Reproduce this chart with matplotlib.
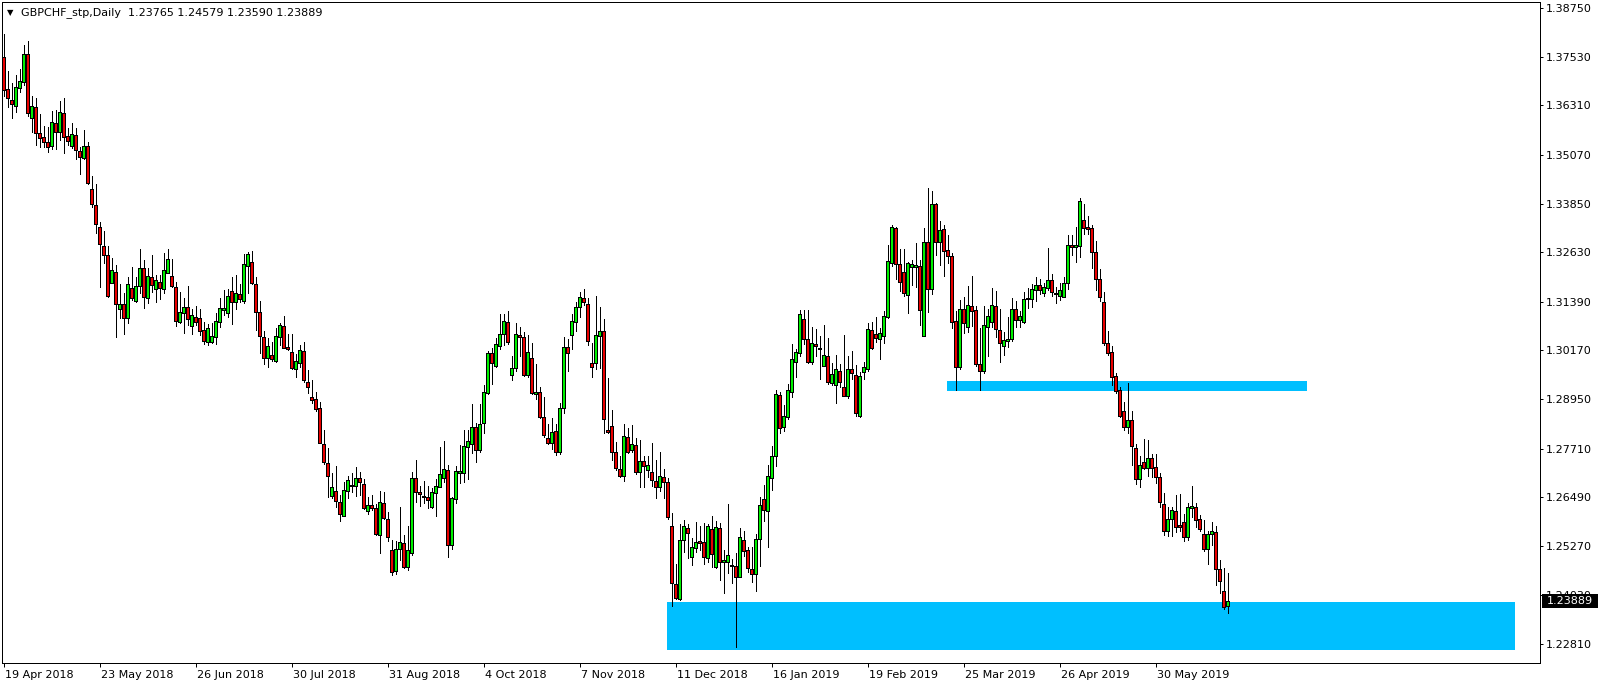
import numpy as np
import matplotlib
matplotlib.use("Agg")
import matplotlib.pyplot as plt
from matplotlib.patches import Rectangle
import matplotlib.transforms as mtransforms

# ---------------- data ----------------
opens = [
1.3751,1.3671,1.3644,1.3630,1.3674,1.3690,1.3760,1.3599,1.3626,1.3561,
1.3551,1.3538,1.3530,1.3586,1.3563,1.3611,1.3554,1.3530,1.3557,1.3517,
1.3498,1.3529,1.3421,1.3381,1.3327,1.3279,1.3256,1.3187,1.3213,1.3120,
1.3132,1.3097,1.3173,1.3141,1.3179,1.3223,1.3148,1.3200,1.3171,1.3188,
1.3171,1.3212,1.3204,1.3175,1.3089,1.3111,1.3125,1.3079,1.3100,1.3097,
1.3068,1.3038,1.3039,1.3051,1.3087,1.3119,1.3111,1.3166,1.3137,1.3158,
1.3141,1.3229,1.3238,1.3183,1.3112,1.3050,1.2997,1.3005,1.2991,1.3050,
1.3078,1.3025,1.3012,1.2970,1.2986,1.3015,1.2937,1.2899,1.2894,1.2872,
1.2782,1.2734,1.2653,1.2665,1.2638,1.2603,1.2665,1.2680,1.2678,1.2696,
1.2681,1.2615,1.2630,1.2621,1.2553,1.2634,1.2594,1.2517,1.2464,1.2518,
1.2534,1.2475,1.2508,1.2696,1.2661,1.2652,1.2649,1.2625,1.2659,1.2675,
1.2696,1.2717,1.2528,1.2644,1.2710,1.2709,1.2774,1.2782,1.2824,1.2766,
1.2836,1.2909,1.3010,1.2979,1.3029,1.3057,1.3089,1.2954,1.2972,1.3055,
1.3050,1.2954,1.2997,1.2907,1.2912,1.2849,1.2797,1.2784,1.2815,1.2761,
1.2872,1.3025,1.3055,1.3089,1.3125,1.3148,1.3132,1.2985,1.2985,1.3054,
1.3066,1.2817,1.2827,1.2762,1.2720,1.2703,1.2799,1.2766,1.2780,1.2713,
1.2740,1.2717,1.2711,1.2690,1.2674,1.2699,1.2686,1.2577,1.2431,1.2393,
1.2542,1.2571,1.2498,1.2521,1.2539,1.2536,1.2496,1.2569,1.2473,1.2571,
1.2486,1.2486,1.2479,1.2477,1.2450,1.2542,1.2517,1.2469,1.2456,1.2544,
1.2644,1.2615,1.2696,1.2752,1.2905,1.2825,1.2849,1.2913,1.2989,1.3010,
1.3095,1.3045,1.2987,1.3033,1.3022,1.2979,1.3003,1.2935,1.2930,1.2965,
1.2924,1.2903,1.2970,1.2955,1.2853,1.2962,1.2970,1.3068,1.3058,1.3045,
1.3053,1.3100,1.3235,1.3323,1.3233,1.3213,1.3156,1.3227,1.3227,1.3228,
1.3054,1.3288,1.3170,1.3384,1.3288,1.3320,1.3269,1.3254,1.3091,1.2976,
1.3120,1.3076,1.3127,1.3118,1.2983,1.2964,1.3075,1.3089,1.3128,1.3068,
1.3028,1.3041,1.3045,1.3120,1.3093,1.3089,1.3145,1.3145,1.3168,1.3180,
1.3160,1.3173,1.3193,1.3160,1.3154,1.3151,1.3185,1.3281,1.3277,1.3279,
1.3344,1.3327,1.3323,1.3264,1.3195,1.3137,1.3035,1.3012,1.2953,1.2918,
1.2865,1.2826,1.2843,1.2772,1.2694,1.2737,1.2723,1.2747,1.2724,1.2699,
1.2631,1.2563,1.2594,1.2614,1.2579,1.2588,1.2548,1.2621,1.2625,1.2594,
1.2557,1.2518,1.2556,1.2561,1.2468,1.2414,1.23765]

highs = [
1.3810,1.3717,1.3686,1.3707,1.3721,1.3782,1.3792,1.3654,1.3649,1.3609,
1.3579,1.3576,1.3617,1.3619,1.3642,1.3649,1.3575,1.3586,1.3574,1.3527,
1.3569,1.3538,1.3454,1.3434,1.3339,1.3316,1.3279,1.3248,1.3231,1.3183,
1.3160,1.3202,1.3225,1.3202,1.3271,1.3243,1.3223,1.3256,1.3206,1.3206,
1.3262,1.3271,1.3245,1.3189,1.3164,1.3148,1.3178,1.3120,1.3128,1.3120,
1.3089,1.3083,1.3085,1.3111,1.3148,1.3168,1.3170,1.3202,1.3206,1.3183,
1.3259,1.3263,1.3266,1.3202,1.3141,1.3066,1.3047,1.3037,1.3072,1.3085,
1.3103,1.3058,1.3058,1.3008,1.3030,1.3037,1.2968,1.2943,1.2912,1.2887,
1.2817,1.2772,1.2709,1.2727,1.2655,1.2688,1.2702,1.2710,1.2724,1.2711,
1.2694,1.2650,1.2655,1.2631,1.2665,1.2661,1.2611,1.2542,1.2539,1.2625,
1.2554,1.2577,1.2711,1.2742,1.2677,1.2690,1.2677,1.2671,1.2695,1.2776,
1.2790,1.2730,1.2650,1.2727,1.2780,1.2817,1.2817,1.2883,1.2836,1.2883,
1.2930,1.3016,1.3022,1.3047,1.3107,1.3107,1.3116,1.3003,1.3085,1.3076,
1.3064,1.3055,1.3035,1.2983,1.2924,1.2899,1.2833,1.2848,1.2833,1.2884,
1.3050,1.3046,1.3107,1.3139,1.3162,1.3170,1.3148,1.3035,1.3153,1.3126,
1.3095,1.2947,1.2868,1.2788,1.2751,1.2833,1.2822,1.2830,1.2797,1.2792,
1.2752,1.2751,1.2784,1.2742,1.2761,1.2719,1.2696,1.2610,1.2482,1.2582,
1.2592,1.2582,1.2546,1.2588,1.2577,1.2585,1.2582,1.2602,1.2590,1.2585,
1.2517,1.2632,1.2493,1.2508,1.2571,1.2564,1.2525,1.2524,1.2557,1.2650,
1.2680,1.2730,1.2777,1.2918,1.2913,1.2880,1.2933,1.3033,1.3020,1.3118,
1.3118,1.3118,1.3075,1.3070,1.3054,1.3080,1.3047,1.2986,1.3005,1.2982,
1.3055,1.3003,1.3015,1.2980,1.2962,1.2989,1.3085,1.3087,1.3100,1.3072,
1.3116,1.3281,1.3331,1.3327,1.3270,1.3270,1.3238,1.3243,1.3285,1.3243,
1.3323,1.3423,1.3416,1.3387,1.3341,1.3331,1.3306,1.3260,1.3116,1.3143,
1.3150,1.3178,1.3203,1.3128,1.3074,1.3128,1.3120,1.3174,1.3166,1.3121,
1.3064,1.3101,1.3149,1.3141,1.3116,1.3164,1.3173,1.3183,1.3202,1.3195,
1.3187,1.3273,1.3208,1.3176,1.3185,1.3202,1.3306,1.3306,1.3327,1.3400,
1.3384,1.3354,1.3331,1.3291,1.3220,1.3164,1.3066,1.3028,1.2960,1.2924,
1.2888,1.2935,1.2865,1.2782,1.2752,1.2794,1.2792,1.2757,1.2757,1.2709,
1.2659,1.2625,1.2625,1.2655,1.2656,1.2606,1.2635,1.2677,1.2635,1.2604,
1.2592,1.2564,1.2586,1.2578,1.2492,1.2471,1.24579]

lows = [
1.3654,1.3628,1.3600,1.3615,1.3665,1.3682,1.3605,1.3565,1.3532,1.3527,
1.3526,1.3513,1.3522,1.3521,1.3544,1.3511,1.3532,1.3525,1.3496,1.3459,
1.3497,1.3434,1.3377,1.3310,1.3176,1.3235,1.3151,1.3185,1.3050,1.3097,
1.3057,1.3085,1.3143,1.3139,1.3160,1.3122,1.3136,1.3164,1.3139,1.3145,
1.3160,1.3210,1.3176,1.3078,1.3085,1.3061,1.3080,1.3057,1.3080,1.3055,
1.3033,1.3030,1.3035,1.3032,1.3076,1.3106,1.3101,1.3083,1.3121,1.3137,
1.3135,1.3160,1.3183,1.3068,1.3010,1.2983,1.2976,1.2991,1.2989,1.3030,
1.3022,1.3018,1.2970,1.2949,1.2976,1.2938,1.2911,1.2886,1.2866,1.2784,
1.2732,1.2649,1.2646,1.2625,1.2590,1.2602,1.2648,1.2663,1.2653,1.2655,
1.2620,1.2607,1.2617,1.2554,1.2510,1.2594,1.2539,1.2454,1.2457,1.2492,
1.2471,1.2467,1.2504,1.2637,1.2627,1.2635,1.2621,1.2623,1.2603,1.2674,
1.2688,1.2500,1.2518,1.2635,1.2685,1.2688,1.2695,1.2759,1.2736,1.2763,
1.2811,1.2908,1.2933,1.2975,1.3020,1.3030,1.3033,1.2943,1.2964,1.3003,
1.2953,1.2951,1.2908,1.2894,1.2847,1.2801,1.2782,1.2769,1.2755,1.2757,
1.2859,1.2964,1.3020,1.3066,1.3101,1.3131,1.3030,1.2951,1.2970,1.2972,
1.2809,1.2811,1.2742,1.2717,1.2700,1.2690,1.2759,1.2763,1.2707,1.2675,
1.2675,1.2700,1.2676,1.2646,1.2665,1.2646,1.2594,1.2377,1.2393,1.2391,
1.2512,1.2497,1.2479,1.2512,1.2517,1.2482,1.2486,1.2473,1.2471,1.2441,
1.2410,1.2460,1.2433,1.2273,1.2448,1.2502,1.2462,1.2437,1.2415,1.2477,
1.2590,1.2525,1.2667,1.2727,1.2810,1.2815,1.2844,1.2901,1.2949,1.3004,
1.3032,1.2986,1.2982,1.3004,1.2945,1.2979,1.2933,1.2930,1.2886,1.2926,
1.2903,1.2897,1.2945,1.2852,1.2851,1.2945,1.2966,1.3020,1.3039,1.2995,
1.3035,1.3099,1.3229,1.3196,1.3166,1.3153,1.3111,1.3181,1.3175,1.3080,
1.3053,1.3114,1.3158,1.3256,1.3231,1.3204,1.3237,1.3072,1.2918,1.2970,
1.3060,1.3062,1.3079,1.2978,1.2918,1.2961,1.3004,1.3076,1.3051,1.2989,
1.3005,1.3025,1.3040,1.3075,1.3076,1.3086,1.3122,1.3126,1.3141,1.3158,
1.3153,1.3168,1.3153,1.3135,1.3143,1.3150,1.3170,1.3256,1.3239,1.3252,
1.3308,1.3308,1.3224,1.3168,1.3141,1.3030,1.3005,1.2930,1.2911,1.2851,
1.2817,1.2811,1.2730,1.2682,1.2675,1.2720,1.2702,1.2700,1.2684,1.2624,
1.2554,1.2552,1.2552,1.2561,1.2563,1.2538,1.2542,1.2600,1.2575,1.2565,
1.2515,1.2482,1.2529,1.2429,1.2408,1.2368,1.23590]

closes = [
1.3670,1.3649,1.3634,1.3676,1.3692,1.3760,1.3611,1.3629,1.3561,1.3550,
1.3538,1.3526,1.3589,1.3565,1.3614,1.3552,1.3542,1.3559,1.3519,1.3502,
1.3529,1.3436,1.3383,1.3333,1.3283,1.3256,1.3153,1.3218,1.3132,1.3133,
1.3097,1.3183,1.3148,1.3179,1.3223,1.3151,1.3204,1.3181,1.3193,1.3174,
1.3218,1.3245,1.3179,1.3091,1.3112,1.3125,1.3095,1.3106,1.3087,1.3066,
1.3040,1.3072,1.3053,1.3091,1.3122,1.3122,1.3153,1.3139,1.3160,1.3146,
1.3233,1.3258,1.3185,1.3114,1.3054,1.2999,1.3029,1.2995,1.3054,1.3080,
1.3024,1.3020,1.2972,1.2990,1.3018,1.2943,1.2926,1.2893,1.2871,1.2786,
1.2736,1.2703,1.2674,1.2640,1.2607,1.2667,1.2692,1.2678,1.2696,1.2686,
1.2621,1.2630,1.2623,1.2556,1.2636,1.2598,1.2548,1.2462,1.2519,1.2536,
1.2475,1.2517,1.2696,1.2663,1.2656,1.2649,1.2642,1.2661,1.2678,1.2706,
1.2719,1.2528,1.2646,1.2715,1.2715,1.2777,1.2790,1.2824,1.2766,1.2833,
1.2912,1.3010,1.2985,1.3032,1.3057,1.3091,1.3037,1.2972,1.3057,1.3050,
1.2954,1.3012,1.2909,1.2912,1.2849,1.2805,1.2784,1.2812,1.2761,1.2872,
1.3025,1.3010,1.3091,1.3126,1.3150,1.3139,1.3041,1.2976,1.3055,1.3066,
1.2844,1.2813,1.2761,1.2721,1.2703,1.2802,1.2762,1.2782,1.2713,1.2740,
1.2727,1.2730,1.2692,1.2674,1.2701,1.2686,1.2600,1.2433,1.2397,1.2542,
1.2577,1.2560,1.2524,1.2536,1.2534,1.2498,1.2577,1.2506,1.2574,1.2486,
1.2492,1.2504,1.2477,1.2448,1.2549,1.2515,1.2471,1.2457,1.2544,1.2630,
1.2617,1.2702,1.2752,1.2907,1.2822,1.2852,1.2918,1.2995,1.3012,1.3107,
1.3045,1.2987,1.3035,1.3029,1.3020,1.3005,1.2938,1.2958,1.2970,1.2938,
1.2903,1.2970,1.2960,1.2861,1.2953,1.2975,1.3070,1.3022,1.3047,1.3060,
1.3103,1.3241,1.3325,1.3233,1.3188,1.3160,1.3235,1.3233,1.3231,1.3118,
1.3288,1.3170,1.3385,1.3288,1.3319,1.3267,1.3254,1.3089,1.2976,1.3120,
1.3086,1.3131,1.3116,1.2982,1.2964,1.3080,1.3103,1.3131,1.3070,1.3035,
1.3043,1.3046,1.3120,1.3093,1.3103,1.3145,1.3149,1.3170,1.3181,1.3167,
1.3175,1.3193,1.3164,1.3157,1.3168,1.3185,1.3281,1.3277,1.3281,1.3391,
1.3324,1.3321,1.3264,1.3196,1.3151,1.3036,1.3011,1.2951,1.2916,1.2852,
1.2826,1.2843,1.2778,1.2694,1.2730,1.2723,1.2747,1.2723,1.2699,1.2638,
1.2563,1.2594,1.2617,1.2575,1.2575,1.2548,1.2624,1.2628,1.2592,1.2569,
1.2518,1.2556,1.2564,1.2468,1.2440,1.2375,1.23889]

date_labels = ["19 Apr 2018", "23 May 2018", "26 Jun 2018", "30 Jul 2018",
               "31 Aug 2018", "4 Oct 2018", "7 Nov 2018", "11 Dec 2018",
               "16 Jan 2019", "19 Feb 2019", "25 Mar 2019", "26 Apr 2019",
               "30 May 2019"]
bars_per_label = 24

price_ticks = [1.38750, 1.37530, 1.36310, 1.35070, 1.33850, 1.32630, 1.31390,
               1.30170, 1.28950, 1.27710, 1.26490, 1.25270, 1.24030, 1.22810]

# supply / demand zones: (first bar, last bar, upper price, lower price)
zone_demand = (165.85, 377.85, 1.23863, 1.22660)
zone_flip = (235.85, 325.85, 1.29402, 1.29159)

symbol_title = "GBPCHF_stp,Daily  1.23765 1.24579 1.23590 1.23889"
last_price = 1.23889

# ---------------- figure ----------------
W, H = 1604, 687
fig = plt.figure(figsize=(W / 100, H / 100), dpi=100)
fig.patch.set_facecolor("white")
ax_left, ax_right, ax_top, ax_bottom = 2, 1540, 2, 663
ax = fig.add_axes([ax_left / W, (H - ax_bottom) / H,
                   (ax_right - ax_left) / W, (ax_bottom - ax_top) / H])
ax.set_facecolor("white")

o = np.array(opens); h = np.array(highs); l = np.array(lows); c = np.array(closes)
x = np.arange(len(o))

up = c >= o
body_bottom = np.minimum(o, c)
body_h = np.maximum(np.abs(c - o), 0.00002)
colors = np.where(up, "#00F000", "#E80000")

px = 0.72  # one pixel in points
ax.vlines(x, l, h, colors="black", linewidth=px, antialiased=False, zorder=3)
ax.bar(x, body_h, bottom=body_bottom, width=0.62, color=colors,
       edgecolor="black", linewidth=px, antialiased=False, zorder=4)

for (x0, x1, top, bot) in (zone_demand, zone_flip):
    ax.add_patch(Rectangle((x0, bot), x1 - x0, top - bot, facecolor="#00BFFF",
                           edgecolor="none", zorder=1, antialiased=False))

ax.set_xlim(-0.4, 384.1)
ax.set_ylim(1.223342, 1.389004)

for s in ax.spines.values():
    s.set_linewidth(px)
    s.set_color("black")

# y axis on the right
ax.yaxis.tick_right()
ax.set_yticks(price_ticks)
ax.set_yticklabels([f"{v:.5f}" for v in price_ticks])
ax.tick_params(axis="y", direction="out", length=3 * px, width=px, pad=3 * px,
               labelsize=8, colors="black")

# x axis date labels
xt = np.arange(len(date_labels)) * bars_per_label
ax.set_xticks(xt)
ax.set_xticklabels(date_labels)
ax.tick_params(axis="x", direction="out", length=4 * px, width=px, pad=3 * px,
               labelsize=8, colors="black")
offset = mtransforms.ScaledTranslation(1.5 / 100, 0, fig.dpi_scale_trans)
for lab in ax.get_xticklabels():
    lab.set_horizontalalignment("left")
    lab.set_transform(lab.get_transform() + offset)

# title line
fig.text(7 / W, 1 - 13 / H, "\u25BC", fontsize=6, va="center", ha="left", color="black")
fig.text(21 / W, 1 - 13 / H, symbol_title, fontsize=8, va="center", ha="left", color="black")

# current price box
fig.add_artist(Rectangle((1542 / W, 1 - 608 / H), 56 / W, 14 / H,
                         transform=fig.transFigure, facecolor="black",
                         edgecolor="none", zorder=10))
fig.text(1547 / W, 1 - 601 / H, f"{last_price:.5f}", fontsize=8, color="white",
         va="center", ha="left", zorder=11)

fig.savefig("out.png", dpi=100, facecolor="white")
